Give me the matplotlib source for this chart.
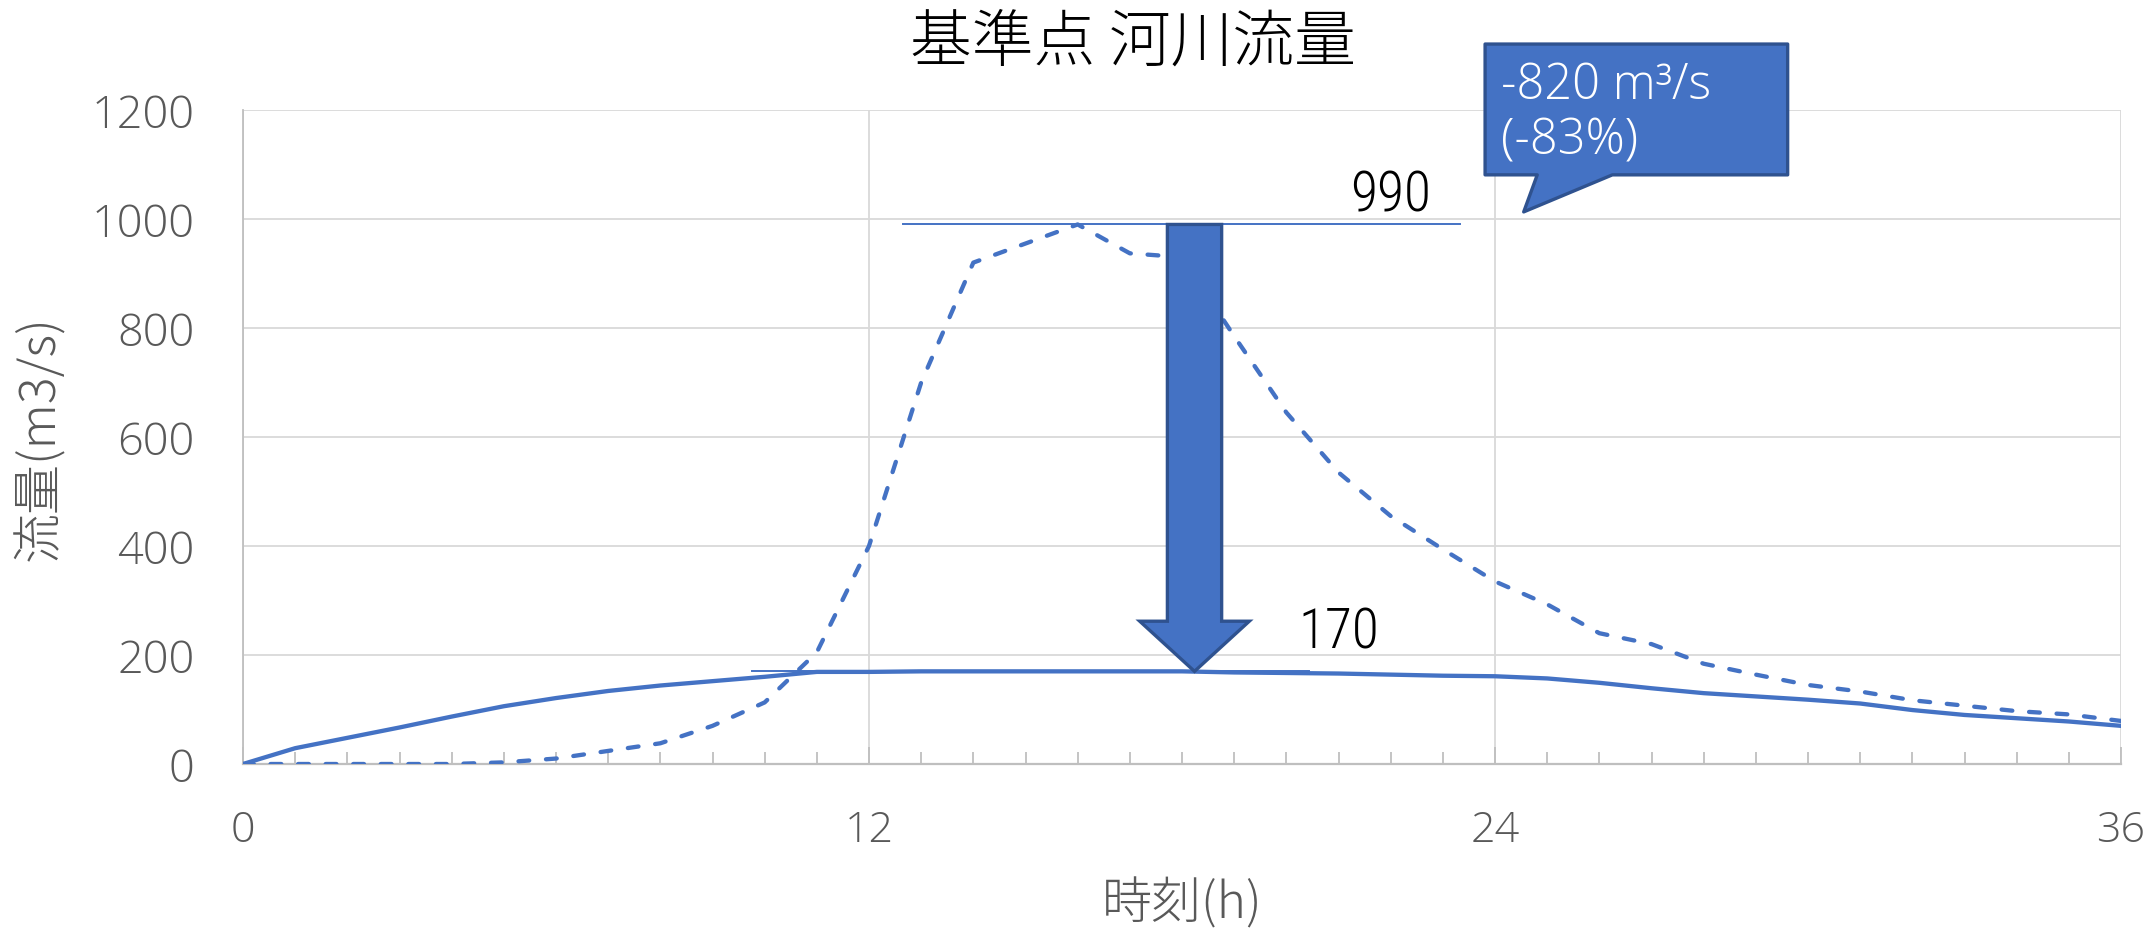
import matplotlib
matplotlib.use("Agg")
import matplotlib.pyplot as plt
from matplotlib.patches import Polygon
from matplotlib.ticker import MultipleLocator

# --- data -------------------------------------------------------------
hours = list(range(0, 37))

# river discharge at the reference point (m3/s), hourly
flow_before = [0, 0, 0, 0, 0, 3, 10, 24, 38, 70, 113, 205, 400, 700, 920, 955,
               990, 937, 930, 785, 645, 535, 455, 394, 335, 293, 240, 220, 184,
               164, 145, 133, 117, 107, 97, 91, 79]
flow_after = [0, 29, 48, 67, 87, 106, 121, 134, 144, 152, 160, 169, 169, 170,
              170, 170, 170, 170, 170, 168, 167, 166, 164, 162, 161, 157, 149,
              139, 130, 124, 118, 111, 99, 90, 84, 78, 70]

peak_before = 990
peak_after = 170
reduction = peak_before - peak_after           # 820
reduction_pct = round(100 * reduction / peak_before)  # 83

x_ticks = [0, 12, 24, 36]
y_ticks = [0, 200, 400, 600, 800, 1000, 1200]

title = "基準点 河川流量"
x_label = "時刻(h)"
y_label = "流量(m3/s)"

# --- style ------------------------------------------------------------
BLUE = "#4472C4"
DARK_BLUE = "#2F528F"
GRID = "#D9D9D9"
AXIS = "#BFBFBF"
LABEL = "#595959"
CJK = ["Noto Sans CJK JP", "DejaVu Sans"]
LATIN = ["Open Sans", "Noto Sans CJK JP", "DejaVu Sans"]
NARROW = ["Roboto Condensed", "Liberation Sans Narrow", "DejaVu Sans Condensed",
          "Noto Sans CJK JP", "DejaVu Sans"]

W, H = 2150, 929
fig = plt.figure(figsize=(W / 100, H / 100), dpi=100)
ax = fig.add_axes([243 / W, 1 - 765 / H, (2121 - 243) / W, (765 - 111) / H])

ax.set_xlim(0, 36)
ax.set_ylim(0, 1200)
ax.set_xticks(x_ticks)
ax.set_yticks(y_ticks)
ax.xaxis.set_minor_locator(MultipleLocator(1))

ax.grid(True, which="major", color=GRID, lw=1.3, zorder=0)
ax.set_axisbelow(True)
for side in ("top", "right"):
    ax.spines[side].set_visible(False)
ax.spines["left"].set_color(AXIS)
ax.spines["left"].set_linewidth(1.3)
ax.spines["bottom"].set_color(AXIS)
ax.spines["bottom"].set_linewidth(1.6)

ax.tick_params(axis="x", which="both", direction="in", colors=AXIS,
               labelcolor=LABEL, width=1.3, pad=32)
ax.tick_params(axis="x", which="major", length=12)
ax.tick_params(axis="x", which="minor", length=8.5)
ax.tick_params(axis="y", length=0, labelcolor=LABEL, pad=35)
for lbl in ax.get_xticklabels():
    lbl.set_family(LATIN)
    lbl.set_fontsize(31)
    lbl.set_fontweight("light")
for lbl in ax.get_yticklabels():
    lbl.set_family(LATIN)
    lbl.set_fontsize(32.5)
    lbl.set_fontweight("light")

# --- series -----------------------------------------------------------
ax.plot(hours, flow_after, color=BLUE, lw=3.1, solid_joinstyle="round",
        zorder=3)
ax.plot(hours, flow_before, color=BLUE, lw=3.1, linestyle=(0, (2.5, 3.9)),
        dash_capstyle="round", zorder=3)

# reference lines at the two peaks
ax.plot([12.65, 23.33], [peak_before, peak_before], color=BLUE, lw=1.4,
        zorder=4)
ax.plot([9.75, 20.43], [peak_after, peak_after], color=BLUE, lw=1.4,
        zorder=4)
ax.text(22.0, 1016, f"{peak_before}", family=NARROW, fontsize=40,
        fontweight="light", ha="center", va="baseline", color="black",
        zorder=6)
ax.text(21.0, 213, f"{peak_after}", family=NARROW, fontsize=40,
        fontweight="light", ha="center", va="baseline", color="black",
        zorder=6)

# downward block arrow from the original peak to the reduced peak
xc, shaft, head, head_base = 18.24, 0.52, 1.05, 262
arrow = Polygon([(xc - shaft, peak_before), (xc + shaft, peak_before),
                 (xc + shaft, head_base), (xc + head, head_base),
                 (xc, peak_after), (xc - head, head_base),
                 (xc - shaft, head_base)],
                closed=True, facecolor=BLUE, edgecolor=DARK_BLUE, lw=2.4,
                joinstyle="miter", zorder=5)
ax.add_patch(arrow)

# speech-bubble callout with the reduction
bubble = Polygon([(23.81, 1321), (29.61, 1321), (29.61, 1081), (26.25, 1081),
                  (24.55, 1013), (24.81, 1081), (23.81, 1081)],
                 closed=True, facecolor=BLUE, edgecolor=DARK_BLUE, lw=2.4,
                 joinstyle="round", clip_on=False, zorder=7)
ax.add_patch(bubble)
ax.text(24.12, 1222, f"-{reduction} m³/s", family=LATIN, fontsize=35,
        fontweight="light", color="white", ha="left", va="baseline",
        zorder=8, clip_on=False)
ax.text(24.12, 1121, f"(-{reduction_pct}%)", family=LATIN, fontsize=35,
        fontweight="light", color="white", ha="left", va="baseline",
        zorder=8, clip_on=False)

# --- titles -----------------------------------------------------------
fig.text(1133 / W, 1 - 44 / H, title, family=CJK, fontsize=44.5,
         fontweight="light", ha="center", va="center", color="black")
fig.text(1182 / W, 1 - 905 / H, x_label, family=CJK, fontsize=36,
         fontweight="light", ha="center", va="center", color=LABEL)
fig.text(40 / W, 1 - 438 / H, y_label, family=CJK, fontsize=36,
         fontweight="light", ha="center", va="center", rotation=90,
         color=LABEL)

fig.savefig("out.png", dpi=100, facecolor="white")
